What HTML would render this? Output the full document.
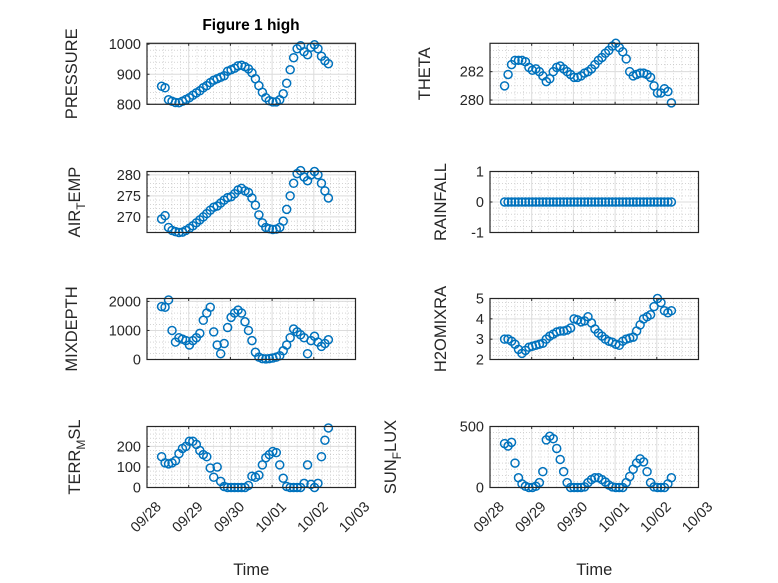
<!DOCTYPE html>
<html><head><meta charset="utf-8"><style>
body{margin:0;background:#fff}
svg{display:block;font-family:"Liberation Sans","DejaVu Sans",sans-serif}
</style></head><body>
<svg id="fig" width="778" height="583" viewBox="0 0 778 583" xmlns="http://www.w3.org/2000/svg">
<rect width="778" height="583" fill="#fff"/>
<text x="251" y="30" text-anchor="middle" font-weight="bold" font-size="15.5" fill="#000">Figure 1 high</text>
</svg>
<script>
const xTickLabels = ["09/28","09/29","09/30","10/01","10/02","10/03"];
const tStart = 0.35, tStep = 1/12;
const pressure = [860,855,815,810,806,805,810,816,822,830,838,845,855,862,872,880,885,890,895,910,915,920,928,930,925,918,905,885,862,840,822,812,808,808,815,835,870,915,955,985,995,975,965,990,998,985,960,945,935];
const airTemp = [269.5,270.3,267.5,266.8,266.5,266.3,266.4,266.8,267.3,267.9,268.6,269.3,270.0,270.8,271.6,272.3,272.6,273.3,274.0,274.6,274.8,275.5,276.4,276.8,276.2,275.8,274.5,272.8,270.5,268.6,267.5,267.2,267.0,267.1,267.5,269.0,271.8,275.0,278.0,280.3,281.0,279.5,278.6,280.0,280.8,280.0,278.0,276.2,274.5];
const mixDepth = [1820,1800,2050,1000,600,750,700,650,500,650,750,900,1350,1600,1800,950,500,200,550,1100,1450,1600,1700,1600,1300,1000,650,250,80,30,20,30,50,80,130,300,500,750,1050,950,850,750,200,650,800,600,450,550,680];
const terrMsl = [150,120,115,120,130,165,190,200,225,225,210,180,160,150,95,50,100,30,5,0,0,0,0,0,0,10,55,50,60,110,145,160,175,170,110,45,5,0,0,0,0,20,110,15,0,20,150,230,290];
const theta = [281.0,281.8,282.5,282.8,282.8,282.8,282.7,282.3,282.1,282.2,282.0,281.7,281.3,281.5,282.0,282.3,282.4,282.2,282.0,281.8,281.6,281.6,281.7,281.9,282.0,282.2,282.5,282.8,283.0,283.3,283.5,283.8,284.0,283.7,283.4,282.9,282.0,281.7,281.8,281.9,281.9,281.8,281.6,281.0,280.5,280.5,280.8,280.6,279.8];
const rainfall = [0,0,0,0,0,0,0,0,0,0,0,0,0,0,0,0,0,0,0,0,0,0,0,0,0,0,0,0,0,0,0,0,0,0,0,0,0,0,0,0,0,0,0,0,0,0,0,0,0];
const h2oMix = [3.0,3.0,2.9,2.75,2.5,2.3,2.45,2.6,2.65,2.7,2.75,2.8,3.0,3.15,3.25,3.35,3.4,3.4,3.45,3.55,4.0,3.95,3.85,3.9,4.1,3.8,3.5,3.3,3.15,3.0,2.9,2.85,2.75,2.7,2.9,3.0,3.05,3.1,3.4,3.7,4.0,4.1,4.2,4.6,5.0,4.8,4.4,4.3,4.4];
const sunFlux = [360,340,370,200,80,30,10,0,0,10,40,130,390,420,400,320,230,130,40,0,0,0,0,5,40,65,80,80,65,45,20,5,0,0,0,40,90,150,200,235,210,130,40,5,0,0,0,30,80];
const pressureTicks = [800,900,1000];
const airTicks = [270,275,280];
const mixTicks = [0,1000,2000];
const terrTicks = [0,100,200];
const thetaTicks = [280,282];
const rainTicks = [-1,0,1];
const h2oTicks = [2,3,4,5];
const sunTicks = [0,500];

const NS="http://www.w3.org/2000/svg";
const svg=document.getElementById('fig');
function mk(tag,attrs,parent){const e=document.createElementNS(NS,tag);for(const k in attrs)e.setAttribute(k,attrs[k]);(parent||svg).appendChild(e);return e;}

const cols=[147,490], W=208.5, H=61;
const rows=[43.3,171.5,298.5,426.5];
const panels=[
 {name:'pressure',col:0,row:0,data:pressure,ticks:pressureTicks,y0:800,y1:1003,minor:20,label:['PRESSURE'],lx:77},
 {name:'theta',col:1,row:0,data:theta,ticks:thetaTicks,y0:279.7,y1:284,minor:0.5,label:['THETA'],lx:430},
 {name:'air-temp',col:0,row:1,data:airTemp,ticks:airTicks,y0:266.3,y1:280.8,minor:1,label:['AIR','T','EMP'],lx:80},
 {name:'rainfall',col:1,row:1,data:rainfall,ticks:rainTicks,y0:-1,y1:1,minor:0.2,label:['RAINFALL'],lx:446},
 {name:'mixdepth',col:0,row:2,data:mixDepth,ticks:mixTicks,y0:0,y1:2100,minor:200,label:['MIXDEPTH'],lx:77},
 {name:'h2omixra',col:1,row:2,data:h2oMix,ticks:h2oTicks,y0:2,y1:5,minor:0.2,label:['H2OMIXRA'],lx:446},
 {name:'terr-msl',col:0,row:3,data:terrMsl,ticks:terrTicks,y0:0,y1:297,minor:20,label:['TERR','M','SL'],lx:80},
 {name:'sun-flux',col:1,row:3,data:sunFlux,ticks:sunTicks,y0:0,y1:500,minor:50,label:['SUN','F','LUX'],lx:396}
];

panels.forEach(p=>{
 const L=cols[p.col], T=rows[p.row];
 const g=mk('g',{});
 
 
 const xs=t=>L+t*(W/5);
 const ys=v=>T+H-(v-p.y0)/(p.y1-p.y0)*H;
 for(let d=0;d<5;d++)for(let k=1;k<5;k++){const x=xs(d+k/5);
  const l=mk('line',{x1:x,x2:x,y1:T,y2:T+H,stroke:'#bbb','stroke-width':0.6,'stroke-dasharray':'1 2'},g);
  
  }
 const start=Math.ceil(p.y0/p.minor-1e-9);
 for(let k=start;k*p.minor<=p.y1+1e-9;k++){const v=k*p.minor;const y=ys(v);
  const l=mk('line',{x1:L,x2:L+W,y1:y,y2:y,stroke:'#bbb','stroke-width':0.6,'stroke-dasharray':'1 2'},g);
  
  }
 for(let d=1;d<5;d++){const x=xs(d);
  const l=mk('line',{x1:x,x2:x,y1:T,y2:T+H,stroke:'#dcdcdc','stroke-width':1},g);
  
  }
 p.ticks.forEach(v=>{const y=ys(v);
  const l=mk('line',{x1:L,x2:L+W,y1:y,y2:y,stroke:'#dcdcdc','stroke-width':1},g);
  
  
  const tk=mk('line',{x1:L,x2:L+2.5,y1:y,y2:y,stroke:'#262626','stroke-width':1},g);
  
  
  const tx=mk('text',{x:L-6,y:y+5,'text-anchor':'end','font-size':14.5,fill:'#262626'},g);
  tx.textContent=String(v);
  
  
 });
 for(let d=0;d<=5;d++){const x=xs(d);
  const tk=mk('line',{x1:x,x2:x,y1:T+H,y2:T+H-2.5,stroke:'#262626','stroke-width':1},g);
  
  
  const tk2=mk('line',{x1:x,x2:x,y1:T,y2:T+2.5,stroke:'#262626','stroke-width':1},g);
  
  
  if(p.row===3){
   const ax=x+15, ay=T+H+20;
   const tx=mk('text',{x:ax,y:ay,'text-anchor':'end','font-size':14.5,fill:'#262626',transform:`rotate(-45 ${ax} ${ay})`},g);
   tx.textContent=xTickLabels[d];
   
   
  }
 }
 p.data.forEach((v,i)=>{
  const c=mk('circle',{cx:xs(tStart+i*tStep),cy:ys(v),r:4,fill:'none',stroke:'#0072BD','stroke-width':1.5},g);
  
  
 });
 const b=mk('rect',{x:L,y:T,width:W,height:H,fill:'none',stroke:'#262626','stroke-width':1.2},g);
 
 
 const cy=T+H/2;
 const lab=mk('text',{x:p.lx,y:cy,'text-anchor':'middle','font-size':16.5,fill:'#262626',transform:`rotate(-90 ${p.lx} ${cy})`},g);
 
 
 if(p.label.length===1){lab.textContent=p.label[0];}
 else{
  const a=mk('tspan',{},lab);a.textContent=p.label[0];
  const s=mk('tspan',{dy:5,'font-size':12},lab);s.textContent=p.label[1];
  const e=mk('tspan',{dy:-5},lab);e.textContent=p.label[2];
 }
 if(p.row===3){
  const tl=mk('text',{x:L+W/2,y:575,'text-anchor':'middle','font-size':16.5,fill:'#262626'},svg);
  tl.textContent='Time';
  
  
 }
});
</script>
</body></html>
